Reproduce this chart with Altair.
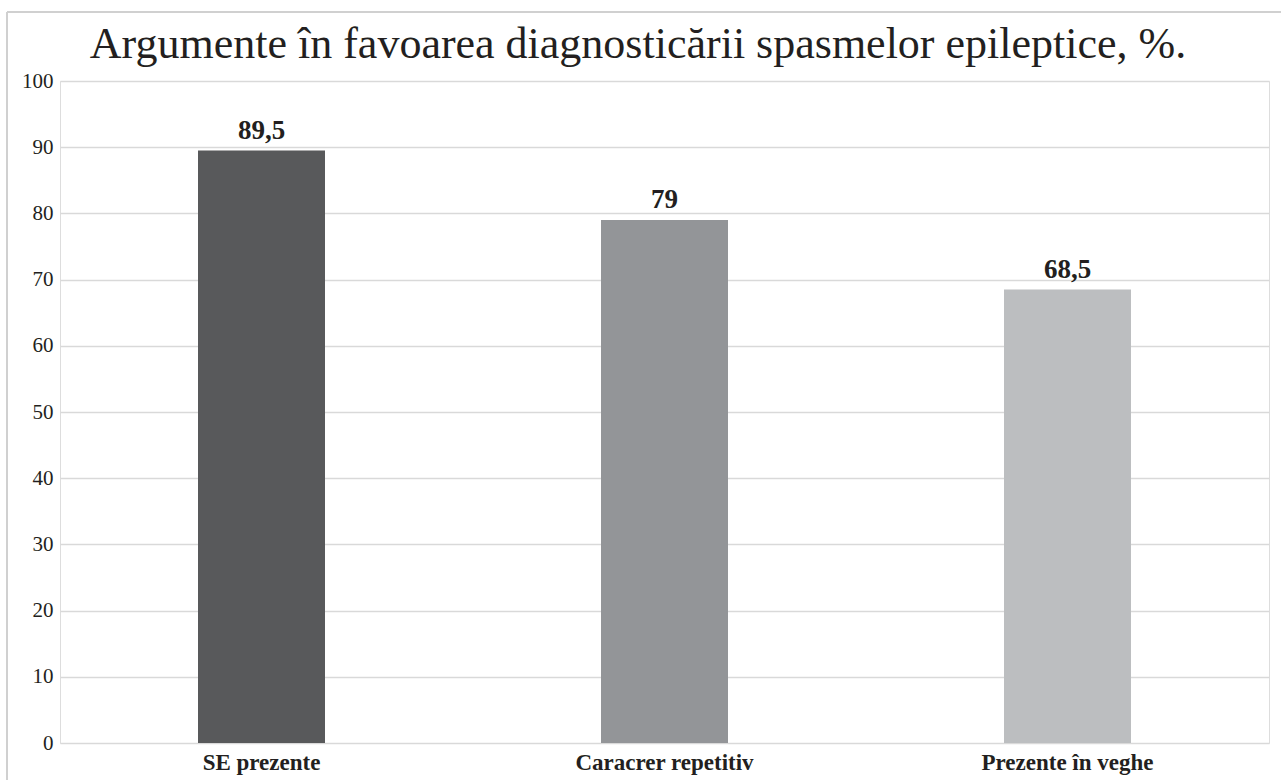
import altair as alt
import pandas as pd

title_text = "Argumente în favoarea diagnosticării spasmelor epileptice, %."
categories = ["SE prezente", "Caracrer repetitiv", "Prezente în veghe"]
values = [89.5, 79, 68.5]
labels = ["89,5", "79", "68,5"]
colors = ["#58595b", "#939598", "#bcbec0"]
y_ticks = [0, 10, 20, 30, 40, 50, 60, 70, 80, 90, 100]

df = pd.DataFrame({"cat": categories, "val": values, "lab": labels, "col": colors})
df_title = pd.DataFrame({"t": [title_text]})

W, H = 1209, 662
FONT = "Liberation Serif, Times New Roman, serif"
INK = "#231f20"

x = alt.X("cat:N", sort=categories, title=None,
          scale=alt.Scale(paddingInner=0, paddingOuter=0),
          axis=alt.Axis(labelAngle=0, labelFont=FONT, labelFontSize=23, labelFontWeight="bold",
                        labelColor=INK, ticks=False, domain=False, labelPadding=8))
y = alt.Y("val:Q", title=None,
          scale=alt.Scale(domain=[0, 100], nice=False),
          axis=alt.Axis(values=y_ticks, labelFont=FONT, labelFontSize=21, labelColor=INK,
                        ticks=False, domain=False, labelPadding=7,
                        gridColor="#d9d9d9", gridWidth=1.5))

bars = alt.Chart(df).mark_bar(size=127).encode(
    x=x, y=y, color=alt.Color("col:N", scale=None))

text = alt.Chart(df).mark_text(dy=-20, font=FONT, fontSize=27, fontWeight="bold",
                               color=INK).encode(
    x=alt.X("cat:N", sort=categories), y="val:Q", text="lab:N")

title = alt.Chart(df_title).mark_text(font=FONT, fontSize=44, color=INK,
                                      align="center", baseline="alphabetic").encode(
    x=alt.value(578), y=alt.value(-23), text="t:N")

border = alt.Chart(df).mark_rule(color="#d0d0d0", strokeWidth=2).encode(
    x=alt.value(-53), x2=alt.value(1225), y=alt.value(-69))
border_left = alt.Chart(df).mark_rule(color="#d0d0d0", strokeWidth=2).encode(
    x=alt.value(-53), y=alt.value(-69), y2=alt.value(720))

chart = alt.layer(border, border_left, bars, text, title).properties(
    width=W, height=H,
    autosize=alt.AutoSizeParams(type="none"),
    padding={"left": 60, "top": 81, "right": 12, "bottom": 37},
).configure_view(stroke=None).configure(background="white")

chart.save("out.html", embed_options={"renderer": "svg", "actions": False})
